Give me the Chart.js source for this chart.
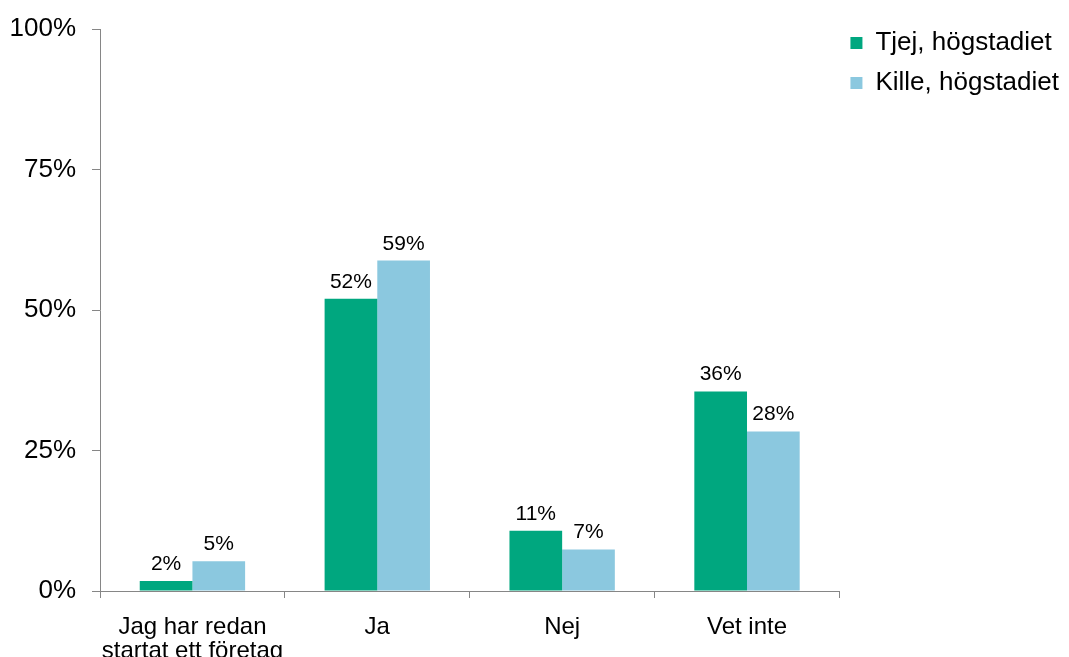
<!DOCTYPE html>
<html>
<head>
<meta charset="utf-8">
<script src="https://cdn.jsdelivr.net/npm/chart.js@4/dist/chart.umd.min.js"></script>
<style>
  html, body { margin: 0; padding: 0; background: #fff; overflow: hidden; }
  #wrap { position: relative; width: 1069px; height: 657px; }
</style>
</head>
<body>
<div id="wrap"><canvas id="chart"></canvas></div>
<script>
// ── Data ────────────────────────────────────────────────
const categories = [['Jag har redan', 'startat ett företag'], 'Ja', 'Nej', 'Vet inte'];
const seriesNames = ['Tjej, högstadiet', 'Kille, högstadiet'];
const tjej  = [1.8, 52.0, 10.7, 35.5];
const kille = [5.3, 58.8, 7.4, 28.4];
const yTicks = [0, 25, 50, 75, 100];

const GREEN = '#00a77f';
const BLUE  = '#8bc8df';
const AXIS  = '#868686';
const FONT  = "'Liberation Sans', Arial, sans-serif";

// ── Value labels above bars ─────────────────────────────
const valueLabels = {
    id: 'valueLabels',
    afterDatasetsDraw(chart) {
        const { ctx } = chart;
        ctx.save();
        ctx.font = `21px ${FONT}`;
        ctx.fillStyle = '#000';
        ctx.textAlign = 'center';
        ctx.textBaseline = 'alphabetic';
        chart.data.datasets.forEach((ds, i) => {
            chart.getDatasetMeta(i).data.forEach((bar, j) => {
                ctx.fillText(Math.round(ds.data[j]) + '%', bar.x, bar.y - 11);
            });
        });
        ctx.restore();
    }
};

// legend sits a bit higher than the plot top and slightly left
const legendNudge = {
    id: 'legendNudge',
    afterLayout(chart) {
        const lg = chart.legend;
        lg.top -= 12; lg.bottom -= 12;
        lg.left -= 3; lg.right -= 3;
    }
};

new Chart(document.getElementById('chart').getContext('2d'), {
    type: 'bar',
    data: {
        labels: categories,
        datasets: [
            { label: seriesNames[0], data: tjej,  backgroundColor: GREEN, categoryPercentage: 0.57, barPercentage: 1.0 },
            { label: seriesNames[1], data: kille, backgroundColor: BLUE,  categoryPercentage: 0.57, barPercentage: 1.0 },
        ],
    },
    options: {
        responsive: true, maintainAspectRatio: false, animation: false,
        layout: { padding: { top: 28, left: 0, right: -3, bottom: 0 } },
        plugins: {
            legend: {
                position: 'right', align: 'start',
                labels: { boxWidth: 12, boxHeight: 12, padding: 14, color: '#000', font: { family: FONT, size: 26 } },
            },
            tooltip: { enabled: false },
        },
        scales: {
            x: {
                afterFit: axis => { axis.height = 66; },
                grid: { display: true, drawOnChartArea: false, drawTicks: true, tickLength: 7, color: AXIS, offset: true },
                border: { display: true, color: AXIS, width: 1 },
                ticks: { color: '#000', padding: 17, autoSkip: false, maxRotation: 0, font: { family: FONT, size: 24, lineHeight: 1.0 } },
            },
            y: {
                min: 0, max: 100,
                afterFit: axis => { axis.width = 100; },
                afterBuildTicks: axis => { axis.ticks = yTicks.map(v => ({ value: v })); },
                grid: { display: true, drawOnChartArea: false, drawTicks: true, tickLength: 8, color: AXIS },
                border: { display: true, color: AXIS, width: 1 },
                ticks: { color: '#000', padding: 16, callback: v => v + '%', font: { family: FONT, size: 26, lineHeight: 1.0 } },
            },
        },
    },
    plugins: [valueLabels, legendNudge],
});
</script>
</body>
</html>
